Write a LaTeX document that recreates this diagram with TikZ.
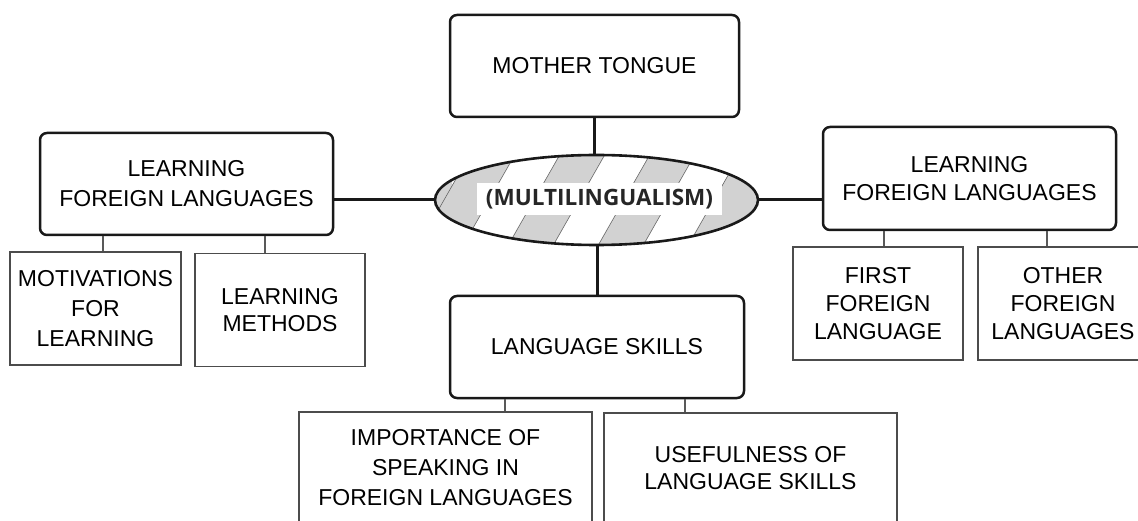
\documentclass[tikz,border=0pt]{standalone}
\usepackage{fontspec}
\setmainfont{Liberation Sans}
\newfontfamily\mlfont{Open Sans}
\usetikzlibrary{shapes.geometric,calc}
\begin{document}
\begin{tikzpicture}[x=1pt,y=-1pt,
  rbox/.style={draw=black!90, rounded corners=7pt, line width=2.5pt, align=center, inner sep=0pt, fill=white},
  sbox/.style={draw=black!70, line width=1.5pt, align=center, inner sep=0pt, fill=white},
  txt/.style={font=\fontsize{23}{#1}\selectfont},
  mainline/.style={line width=3pt, black!90},
  subline/.style={line width=1.4pt, black!65},
  stripe/.style={fill=gray!35, draw=black!60, line width=0.6pt}
]
\clip (0,0) rectangle (1138,521);
\fill[white] (0,0) rectangle (1138,521);

% central ellipse stripes
\begin{scope}
  \clip (596.5,200) ellipse [x radius=161.5, y radius=45];
  \fill[gray!35] (430,150) rectangle (452,250);
  \foreach \k in {4,...,11}{
    \pgfmathsetmacro{\a}{18+90*\k}
    \path[stripe] (\a-85.5,150) -- (\a+45-85.5,150) -- (\a+45-142.5,250) -- (\a-142.5,250) -- cycle;
  }
\end{scope}
\node[ellipse, draw=black!90, line width=2.6pt, minimum width=323pt, minimum height=90pt, inner sep=0pt] (ml) at (596.5,200) {};
\node[fill=white, minimum width=245pt, minimum height=32pt, inner sep=0pt, text=black!85,
      font=\mlfont\bfseries\fontsize{22.5}{27}\selectfont] (mltext) at (599.5,199) {(MULTILINGUALISM)};

% main boxes
\node[rbox, txt=30, minimum width=289pt, minimum height=102pt] (mt) at (594.5,66) {MOTHER TONGUE};
\node[rbox, txt=30, minimum width=293pt, minimum height=102pt] (lfl) at (186.5,184) {LEARNING\\FOREIGN LANGUAGES};
\node[rbox, txt=28, minimum width=293pt, minimum height=103pt] (rfl) at (969.5,178.5) {LEARNING\\FOREIGN LANGUAGES};
\node[rbox, txt=30, minimum width=294pt, minimum height=102pt] (ls) at (597,347) {LANGUAGE SKILLS};

% sub boxes
\node[sbox, txt=30, minimum width=171pt, minimum height=113pt] (mot) at (95.5,308.5) {MOTIVATIONS\\FOR\\LEARNING};
\node[sbox, txt=27, minimum width=170pt, minimum height=113pt] (meth) at (280,310) {LEARNING\\METHODS};
\node[sbox, txt=28, minimum width=170pt, minimum height=113pt] (first) at (878,303.5) {FIRST\\FOREIGN\\LANGUAGE};
\node[sbox, txt=28, minimum width=170pt, minimum height=113pt] (other) at (1063,303.5) {OTHER\\FOREIGN\\LANGUAGES};
\node[sbox, txt=30, minimum width=293pt, minimum height=112pt] (imp) at (445.5,468) {IMPORTANCE OF\\SPEAKING IN\\FOREIGN LANGUAGES};
\node[sbox, txt=27, minimum width=293pt, minimum height=111pt] (use) at (750.5,468.5) {USEFULNESS OF\\LANGUAGE SKILLS};

% main connectors
\draw[mainline] (mt.south) -- (ml.north -| mt.south);
\draw[mainline] (ml.south -| ls.north) -- (ls.north);
\draw[mainline] (ml.west -| lfl.east) -- (ml.west);
\draw[mainline] (ml.east) -- (ml.east -| rfl.west);

% sub connectors
\coordinate (c1) at (103,0);
\coordinate (c2) at (265,0);
\coordinate (c3) at (884,0);
\coordinate (c4) at (1047,0);
\coordinate (c5) at (505,0);
\coordinate (c6) at (685,0);
\draw[subline] (lfl.south -| c1) -- (mot.north -| c1);
\draw[subline] (lfl.south -| c2) -- (meth.north -| c2);
\draw[subline] (rfl.south -| c3) -- (first.north -| c3);
\draw[subline] (rfl.south -| c4) -- (other.north -| c4);
\draw[subline] (ls.south -| c5) -- (imp.north -| c5);
\draw[subline] (ls.south -| c6) -- (use.north -| c6);
\end{tikzpicture}
\end{document}
